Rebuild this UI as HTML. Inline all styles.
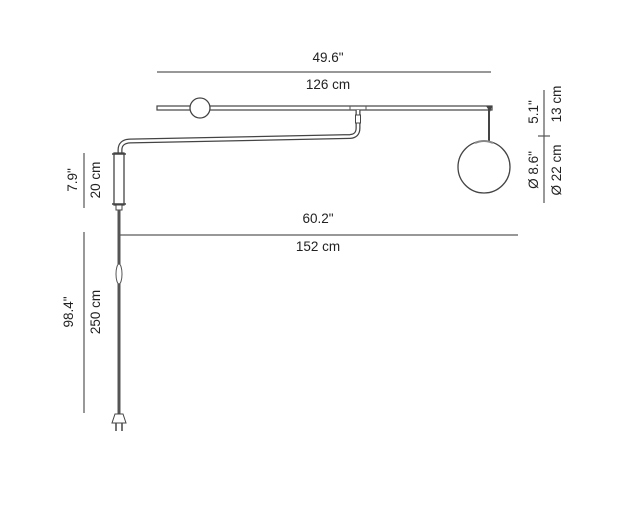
<!DOCTYPE html>
<html><head><style>body{margin:0;background:#fff}svg{display:block}text{font-family:"Liberation Sans",sans-serif;font-size:13.5px;fill:#222}</style></head>
<body><svg width="626" height="510" viewBox="0 0 626 510">
<g stroke="#555" fill="none">
<line x1="157" y1="72" x2="491" y2="72" stroke-width="1.5" stroke="#777"/>
<line x1="120" y1="235" x2="518" y2="235" stroke-width="1.5" stroke="#777"/>
<line x1="84" y1="153" x2="84" y2="208" stroke-width="1.2"/>
<line x1="84" y1="232" x2="84" y2="413" stroke-width="1.2"/>
<line x1="544" y1="90" x2="544" y2="203" stroke-width="1.2"/>
<line x1="538" y1="136" x2="550" y2="136" stroke-width="1.2"/>
<rect x="157" y="106" width="335" height="4" fill="#fff" stroke="#444" stroke-width="1.2"/>
<line x1="350" y1="106" x2="350" y2="110"/><line x1="366" y1="106" x2="366" y2="110"/>
<circle cx="200" cy="108" r="10" fill="#fff" stroke="#444" stroke-width="1.3"/>
<path d="M358 110 V128 Q358 136 350 136.5 L130 141 Q120 141.5 120 150 V155" stroke="#444" stroke-width="5"/>
<path d="M358 110 V128 Q358 136 350 136.5 L130 141 Q120 141.5 120 150 V155" stroke="#fff" stroke-width="2.5"/>
<rect x="355.5" y="115" width="5" height="8" fill="#fff" stroke="#444"/>
<rect x="114" y="153" width="10" height="52" fill="#fff" stroke="#444" stroke-width="1.3"/>
<line x1="112" y1="154" x2="126" y2="154" stroke="#444" stroke-width="1.5"/>
<line x1="112" y1="204" x2="126" y2="204" stroke="#444" stroke-width="1.5"/>
<rect x="116" y="205" width="6" height="5" fill="#fff" stroke="#444"/>
<line x1="119" y1="210" x2="119" y2="414" stroke="#555" stroke-width="3"/>
<ellipse cx="119" cy="274" rx="3" ry="10" fill="#fff" stroke="#555"/>
<path d="M115 414 L112 423 H126 L123 414 Z" fill="#fff" stroke="#444"/>
<line x1="116" y1="423" x2="116" y2="431" stroke="#444" stroke-width="1.5"/>
<line x1="122" y1="423" x2="122" y2="431" stroke="#444" stroke-width="1.5"/>
<line x1="489" y1="108" x2="489" y2="141" stroke="#444" stroke-width="2"/>
<path d="M486 106 L492 106 L490 112 Z" fill="#444" stroke="none"/>
<circle cx="484" cy="167" r="26" fill="#fff" stroke="#444" stroke-width="1.3"/>
<path d="M475 143 Q484 139 493 143" stroke="#888" stroke-width="2"/>
</g>
<text x="328" y="62" text-anchor="middle">49.6"</text>
<text x="328" y="89" text-anchor="middle">126 cm</text>
<text x="318" y="223" text-anchor="middle">60.2"</text>
<text x="318" y="251" text-anchor="middle">152 cm</text>
<text transform="translate(77,180) rotate(-90)" text-anchor="middle">7.9"</text>
<text transform="translate(100,180) rotate(-90)" text-anchor="middle">20 cm</text>
<text transform="translate(73,312) rotate(-90)" text-anchor="middle">98.4"</text>
<text transform="translate(100,312) rotate(-90)" text-anchor="middle">250 cm</text>
<text transform="translate(538,112) rotate(-90)" text-anchor="middle">5.1"</text>
<text transform="translate(561,104) rotate(-90)" text-anchor="middle">13 cm</text>
<text transform="translate(538,170) rotate(-90)" text-anchor="middle">Ø 8.6"</text>
<text transform="translate(561,170) rotate(-90)" text-anchor="middle">Ø 22 cm</text>
</svg></body></html>
